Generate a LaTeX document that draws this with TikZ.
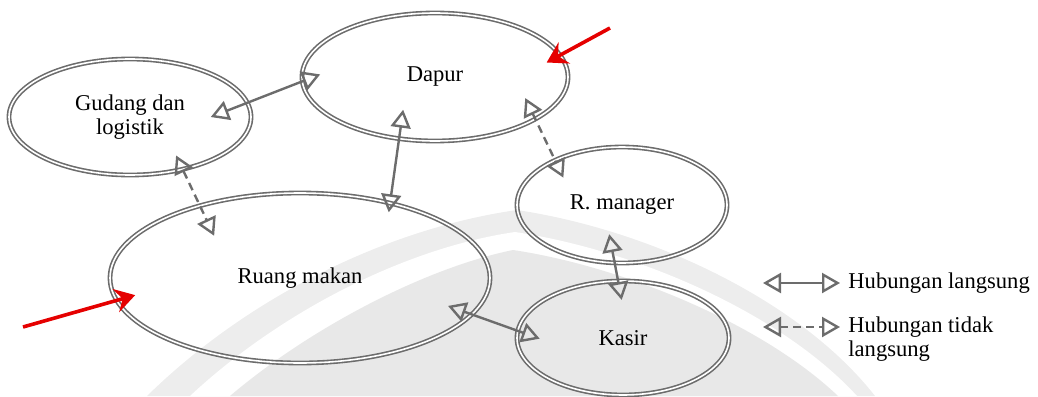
\documentclass[tikz,border=0pt]{standalone}
\usepackage{fontspec}
\setmainfont{Liberation Serif}
\usetikzlibrary{shapes.geometric, arrows.meta, positioning}

\tikzset{
	room/.style={ellipse, draw=gray!85!black, line width=0.8pt, double=white, double distance=0.8pt, inner sep=0pt, align=center, text=black},
	link/.style={gray!85!black, line width=1.2pt, >={Triangle[open, length=9pt, width=10pt]}, <->},
	farlink/.style={link, dash pattern=on 4pt off 2.5pt},
	entry/.style={red!90!black, line width=1.8pt, -{Stealth[length=10pt, width=12pt, inset=3.5pt]}},
	legtext/.style={anchor=west, align=left, inner sep=0pt, text=black}
}

\begin{document}
\begin{tikzpicture}[x=0.5pt, y=-0.5pt, font=\fontsize{11.3}{12}\selectfont]
	\useasboundingbox (0,0) rectangle (1038,396);

	% background arch
	\fill[gray!14] (147,396) .. controls (250,295) and (390,228) .. (517,210) .. controls (650,230) and (800,300) .. (875,396) -- cycle;
	\fill[white] (190,396) .. controls (280,312) and (405,248) .. (515,232) .. controls (635,250) and (780,312) .. (857,396) -- cycle;
	\fill[gray!18] (230,396) .. controls (310,328) and (425,268) .. (513,250) .. controls (620,266) and (760,322) .. (838,396) -- cycle;

	% rooms
	\node[room, minimum width=121pt, minimum height=58pt] (gudang) at (130,117) {Gudang dan\\logistik};
	\node[room, minimum width=133pt, minimum height=64pt] (dapur) at (435,77) {Dapur};
	\node[room, minimum width=105pt, minimum height=58pt] (manager) at (622,205) {R. manager};
	\node[room, minimum width=106pt, minimum height=57pt] (kasir) at (623,338) {Kasir};
	\node[room, minimum width=190pt, minimum height=85pt] (ruang) at (300,278) {Ruang makan};

	% relations
	\draw[link, shorten <=-20pt, shorten >=-10pt] (gudang.7.6) -- (dapur.182.1);
	\draw[farlink, shorten <=-8pt, shorten >=-17pt] (gudang.-45.5) -- (ruang.144.8);
	\draw[link, shorten <=-15pt, shorten >=-5pt] (dapur.240.3) -- (ruang.40.3);
	\draw[farlink, shorten <=-12pt, shorten >=-10pt] (dapur.-23.4) -- (manager.146.7);
	\draw[link, shorten <=-15pt, shorten >=-10pt] (manager.263.7) -- (kasir.95.2);
	\draw[link, shorten <=-13pt, shorten >=-12pt] (ruang.-12.6) -- (kasir.176.2);

	% entrances
	\coordinate (in1) at (23,327);
	\coordinate (in2) at (610,28);
	\draw[entry, shorten >=-10pt] (in1) -- (ruang.187.1);
	\draw[entry, shorten >=-8pt] (in2) -- (dapur.10.3);

	% legend
	\node[legtext] (leg1) at (848,283) {Hubungan langsung};
	\node[legtext] (leg2) at (848,339) {Hubungan tidak\\langsung};
	\coordinate (a1) at (763,283);
	\coordinate (b1) at (840,283);
	\coordinate (a2) at (763,327);
	\coordinate (b2) at (840,327);
	\draw[link] (a1) -- (b1);
	\draw[farlink] (a2) -- (b2);
\end{tikzpicture}
\end{document}
